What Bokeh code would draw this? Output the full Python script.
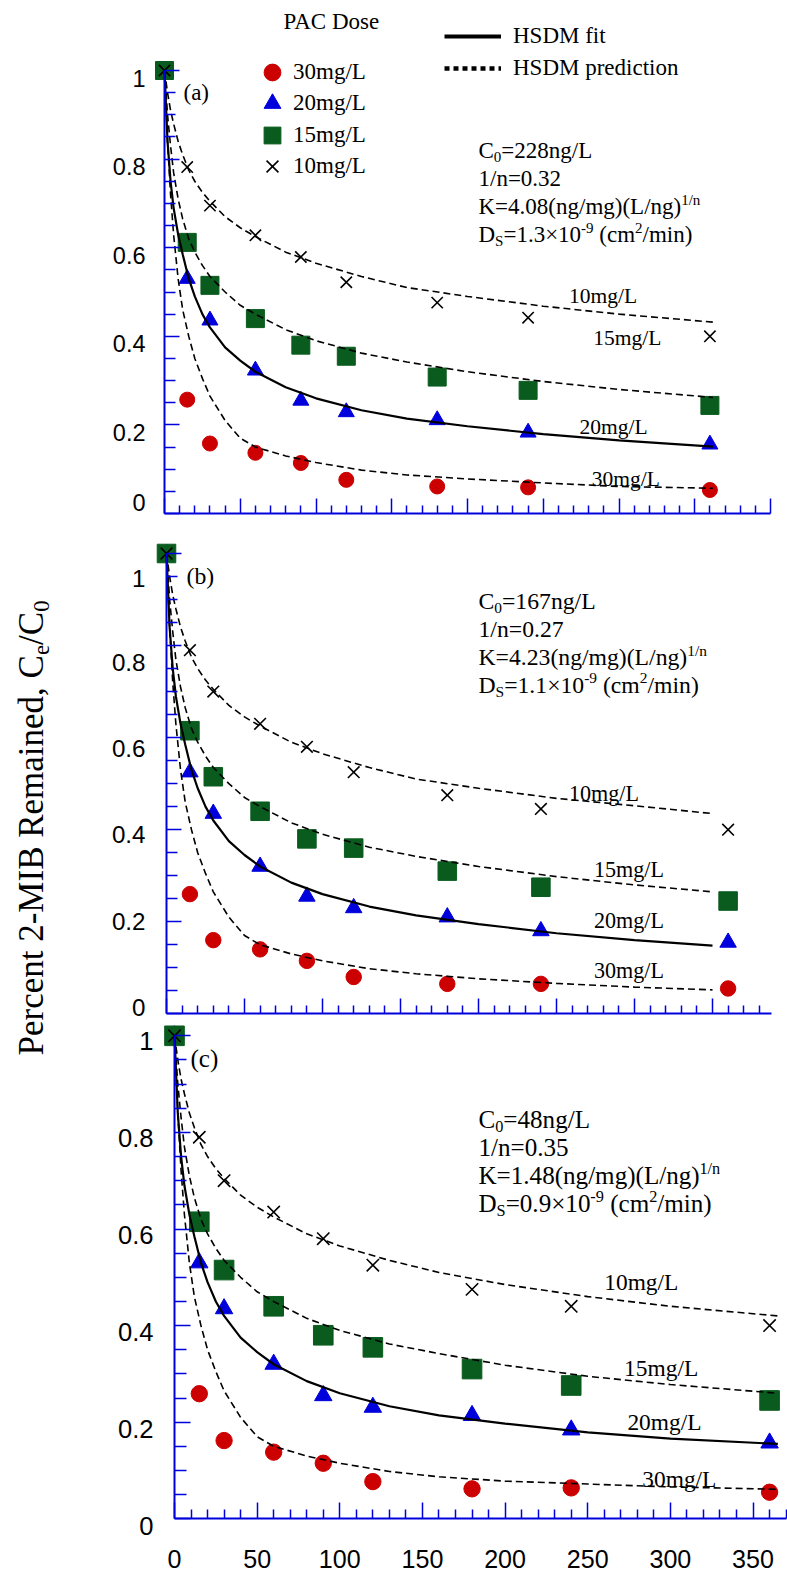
from bokeh.plotting import figure
from bokeh.models import Range1d, LinearAxis, FixedTicker, Label, Legend, LegendItem, NumeralTickFormatter
from bokeh.embed import file_html
from bokeh.resources import INLINE

# ---------------- data ----------------
TIME = [0, 15, 30, 60, 90, 120, 180, 240, 360]
DOSES = ["30mg/L", "20mg/L", "15mg/L", "10mg/L"]

A_30 = [1.0, 0.257, 0.158, 0.137, 0.114, 0.076, 0.061, 0.059, 0.053]
A_20 = [1.0, 0.530, 0.436, 0.323, 0.255, 0.229, 0.211, 0.183, 0.156]
A_15 = [1.0, 0.612, 0.515, 0.440, 0.380, 0.355, 0.308, 0.278, 0.244]
A_10 = [1.0, 0.782, 0.695, 0.628, 0.579, 0.522, 0.476, 0.442, 0.400]

B_30 = [1.0, 0.260, 0.160, 0.140, 0.115, 0.080, 0.065, 0.065, 0.055]
B_20 = [1.0, 0.525, 0.435, 0.320, 0.255, 0.230, 0.210, 0.180, 0.155]
B_15 = [1.0, 0.615, 0.515, 0.440, 0.380, 0.360, 0.310, 0.275, 0.245]
B_10 = [1.0, 0.790, 0.700, 0.630, 0.580, 0.525, 0.475, 0.445, 0.400]

C_30 = [1.0, 0.259, 0.162, 0.138, 0.115, 0.077, 0.062, 0.064, 0.055]
C_20 = [1.0, 0.530, 0.435, 0.320, 0.255, 0.231, 0.214, 0.184, 0.157]
C_15 = [1.0, 0.615, 0.515, 0.440, 0.380, 0.355, 0.310, 0.276, 0.245]
C_10 = [1.0, 0.790, 0.700, 0.635, 0.580, 0.525, 0.475, 0.440, 0.400]

CURVE_T_A = [0, 2, 4, 6, 9, 12, 16, 20, 25, 30, 40, 50, 60, 80, 100, 130, 160, 200, 250, 300, 362]
CURVE_T_B = [0, 2, 4, 6, 9, 12, 16, 20, 25, 30, 40, 50, 60, 80, 100, 130, 160, 200, 250, 300, 350]
CURVE_T_C = [0, 2, 4, 6, 9, 12, 16, 20, 25, 30, 40, 50, 60, 80, 100, 130, 160, 200, 250, 300, 365]

A_PRED_10 = [1.0, 0.95, 0.91, 0.88, 0.84, 0.81, 0.775, 0.75, 0.725, 0.705, 0.67, 0.645, 0.625, 0.59, 0.565, 0.535, 0.51, 0.49, 0.468, 0.45, 0.432]
A_PRED_15 = [1.0, 0.90, 0.83, 0.77, 0.71, 0.665, 0.62, 0.59, 0.56, 0.535, 0.50, 0.47, 0.45, 0.415, 0.39, 0.362, 0.342, 0.32, 0.298, 0.28, 0.262]
A_FIT_20 = [1.0, 0.84, 0.75, 0.69, 0.63, 0.585, 0.53, 0.49, 0.45, 0.42, 0.375, 0.345, 0.32, 0.285, 0.26, 0.233, 0.214, 0.197, 0.179, 0.165, 0.151]
A_PRED_30 = [1.0, 0.84, 0.72, 0.63, 0.53, 0.46, 0.40, 0.35, 0.305, 0.265, 0.21, 0.17, 0.15, 0.13, 0.115, 0.098, 0.087, 0.078, 0.069, 0.061, 0.057]

B_PRED_10 = [1.0, 0.95, 0.91, 0.88, 0.84, 0.81, 0.775, 0.75, 0.725, 0.705, 0.67, 0.645, 0.625, 0.59, 0.565, 0.535, 0.51, 0.49, 0.468, 0.452, 0.435]
B_PRED_15 = [1.0, 0.90, 0.83, 0.77, 0.71, 0.665, 0.62, 0.59, 0.56, 0.535, 0.50, 0.47, 0.45, 0.415, 0.39, 0.362, 0.342, 0.32, 0.298, 0.28, 0.265]
B_FIT_20 = [1.0, 0.84, 0.75, 0.69, 0.63, 0.585, 0.53, 0.49, 0.45, 0.42, 0.375, 0.345, 0.32, 0.285, 0.26, 0.233, 0.214, 0.195, 0.175, 0.16, 0.148]
B_PRED_30 = [1.0, 0.84, 0.72, 0.63, 0.53, 0.46, 0.40, 0.35, 0.305, 0.265, 0.21, 0.17, 0.15, 0.13, 0.115, 0.098, 0.087, 0.076, 0.066, 0.058, 0.052]

C_PRED_10 = [1.0, 0.95, 0.91, 0.88, 0.84, 0.81, 0.775, 0.75, 0.725, 0.705, 0.67, 0.645, 0.625, 0.59, 0.565, 0.535, 0.51, 0.485, 0.46, 0.44, 0.42]
C_PRED_15 = [1.0, 0.90, 0.83, 0.77, 0.71, 0.665, 0.62, 0.59, 0.56, 0.535, 0.50, 0.47, 0.45, 0.415, 0.39, 0.362, 0.342, 0.318, 0.295, 0.278, 0.26]
C_FIT_20 = [1.0, 0.84, 0.75, 0.69, 0.63, 0.585, 0.53, 0.49, 0.45, 0.42, 0.375, 0.345, 0.32, 0.285, 0.26, 0.233, 0.214, 0.197, 0.179, 0.166, 0.155]
C_PRED_30 = [1.0, 0.84, 0.72, 0.63, 0.53, 0.46, 0.40, 0.35, 0.305, 0.265, 0.21, 0.17, 0.15, 0.13, 0.115, 0.098, 0.087, 0.078, 0.072, 0.066, 0.061]

Y_TICKS = [0, 0.2, 0.4, 0.6, 0.8, 1.0]
Y_MINOR = [round(0.05 * k, 2) for k in range(21) if k % 4]
X_TICKS = [0, 50, 100, 150, 200, 250, 300, 350, 400]

# ---------------- style / layout ----------------
W, H = 787, 1579
RED, BLUE, GREEN, BLACK, AXIS = "#CC0000", "#0000DD", "#0A5C1E", "#000000", "#0000DD"
SERIF, SANS = "Liberation Serif", "Liberation Sans"

TW = {'.': 250, ',': 250, '(': 333, ')': 333, '/': 278, '=': 564, '×': 564, '-': 333, ' ': 250,
      'n': 500, 'g': 500, 'm': 778, 'L': 611, 'K': 722, 'C': 667, 'D': 722, 'S': 556, 'c': 444,
      'i': 278, 'e': 444, 'a': 444, 'P': 556, 'r': 333, 't': 278, 'M': 889, 'I': 333, 'B': 667,
      'R': 667, 'd': 500}


def tw(s, size):
    return sum(TW.get(ch, 500) for ch in s) / 1000.0 * size


# X0/Y0: page pixel of the data origin; sx/sy: pixels per data unit.
# lbl: where the printed tick labels sit (they are not exactly level with their ticks in the original)
PANELS = {
    "a": dict(name="default", X0=164, Y0=513, sx=1.515, sy=443, xb=400, xmax_tick=400, k=1.0,
              labels=False, data=(A_30, A_20, A_15, A_10), ct=CURVE_T_A,
              curves=(A_PRED_30, A_FIT_20, A_PRED_15, A_PRED_10),
              lbl=[([0.2, 0.4, 0.6, 0.8, 1.0], 520, 442), ([0], 502, 443)], lbl_std=19,
              letter=("(a)", 183, 92),
              ann=(478, [157, 185, 213, 241], "228", "0.32", "4.08", "1.3"),
              clabels=[("10mg/L", 267, 0.49), ("15mg/L", 283, 0.397), ("20mg/L", 274, 0.196), ("30mg/L", 282, 0.077)]),
    "b": dict(name="b", X0=166, Y0=1013.3, sx=1.56, sy=460.3, xb=388, xmax_tick=380, k=1.03,
              labels=False, data=(B_30, B_20, B_15, B_10), ct=CURVE_T_B,
              curves=(B_PRED_30, B_FIT_20, B_PRED_15, B_PRED_10),
              lbl=[([0, 0.2, 0.4, 0.6, 0.8], 1007, 431.5), ([1.0], 1009.5, 431.5)], lbl_std=21,
              letter=("(b)", 186, 575),
              ann=(478, [608, 636, 664, 692], "167", "0.27", "4.23", "1.1"),
              clabels=[("10mg/L", 258, 0.478), ("15mg/L", 274, 0.313), ("20mg/L", 274, 0.203), ("30mg/L", 274, 0.094)]),
    "c": dict(name="c", X0=174, Y0=1518.3, sx=1.653, sy=483, xb=370, xmax_tick=370, k=1.09,
              labels=True, data=(C_30, C_20, C_15, C_10), ct=CURVE_T_C,
              curves=(C_PRED_30, C_FIT_20, C_PRED_15, C_PRED_10),
              lbl=[([0, 0.2, 0.4, 0.6, 0.8, 1.0], 1525.5, 485)], lbl_std=21,
              letter=("(c)", 190, 1058),
              ann=(478, [1127, 1155, 1183, 1211], "48", "0.35", "1.48", "0.9"),
              clabels=[("10mg/L", 260, 0.491), ("15mg/L", 272, 0.313), ("20mg/L", 274, 0.201), ("30mg/L", 283, 0.083)]),
}

x_ranges, y_ranges = {}, {}
for key, P in PANELS.items():
    x_ranges[P["name"]] = Range1d(-P["X0"] / P["sx"], (W - P["X0"]) / P["sx"])
    y_ranges[P["name"]] = Range1d((P["Y0"] - H) / P["sy"], P["Y0"] / P["sy"])
    for i, (_, y0l, syl) in enumerate(P["lbl"]):
        y_ranges[f"{key}_lbl{i}"] = Range1d((y0l - H) / syl, y0l / syl)

PA, PB, PC = PANELS["a"], PANELS["b"], PANELS["c"]

p = figure(width=W, height=H, x_range=x_ranges["default"], y_range=y_ranges["default"],
           min_border=0, x_axis_location=None, y_axis_location=None,
           output_backend="svg", toolbar_location=None, background_fill_color="white",
           border_fill_color="white", outline_line_color=None)
p.grid.visible = False
p.extra_x_ranges = {k: v for k, v in x_ranges.items() if k != "default"}
p.extra_y_ranges = {k: v for k, v in y_ranges.items() if k != "default"}


def to_data(P, px, py):
    return (px - P["X0"]) / P["sx"], (P["Y0"] - py) / P["sy"]


def label(P, px, py, text, size, align="left", baseline="middle", angle=0.0, font=SERIF):
    x, y = to_data(P, px, py)
    p.add_layout(Label(x=x, y=y, x_range_name=P["name"], y_range_name=P["name"], text=text, angle=angle,
                       text_font=font, text_font_size=f"{size:.1f}px", text_color=BLACK,
                       text_align=align, text_baseline=baseline))


def rich(P, px, py, segs, size, angle=0.0):
    """px, py: start of the text baseline (page px). Placed with middle baseline."""
    cur = 0.0
    for txt, kind in segs:
        fs = size * (0.65 if kind != "n" else 1.0)
        shift = {"n": 0.0, "sub": -0.18 * size, "sup": 0.40 * size}[kind] + 0.32 * fs
        lead = len(txt) - len(txt.lstrip(" "))
        cur += tw(" " * lead, fs)
        txt = txt.lstrip(" ")
        if angle == 0:
            qx, qy = px + cur, py - shift
        else:
            qx, qy = px - shift, py - cur
        label(P, qx, qy, txt, fs, angle=angle)
        cur += tw(txt, fs)


def style_axis(ax, k):
    ax.axis_line_color = AXIS
    ax.axis_line_width = 2
    ax.major_tick_line_color = AXIS
    ax.minor_tick_line_color = AXIS
    ax.major_tick_line_width = 1.5
    ax.minor_tick_line_width = 1.5
    ax.major_tick_out = 0
    ax.minor_tick_out = 0
    ax.major_tick_in = round(15 * k)
    ax.minor_tick_in = round(8 * k)
    ax.major_label_text_font = SANS
    ax.major_label_text_color = BLACK


def build(key):
    P = PANELS[key]
    nm, k = P["name"], P["k"]
    # ---- y axis at x = 0: line + ticks ----
    y1 = LinearAxis(x_range_name=nm, y_range_name=nm, fixed_location=0, bounds=(0, 1),
                    ticker=FixedTicker(ticks=[], minor_ticks=Y_MINOR))
    style_axis(y1, k)
    y1.minor_tick_in = round(11 * k)
    p.add_layout(y1, "left")
    y2 = LinearAxis(x_range_name=nm, y_range_name=nm, fixed_location=0, bounds=(0, 1),
                    ticker=FixedTicker(ticks=[], minor_ticks=Y_TICKS))
    style_axis(y2, k)
    y2.axis_line_color = None
    y2.minor_tick_in = round(15 * k)
    p.add_layout(y2, "left")
    # ---- y tick labels ----
    for i, (ticks, _, _) in enumerate(P["lbl"]):
        y3 = LinearAxis(x_range_name=nm, y_range_name=f"{key}_lbl{i}", fixed_location=0,
                        ticker=FixedTicker(ticks=ticks, minor_ticks=[]),
                        formatter=NumeralTickFormatter(format="0.[0]"))
        style_axis(y3, k)
        y3.axis_line_color = None
        y3.major_tick_line_color = None
        y3.major_tick_in = 0
        y3.major_label_text_font_size = f"{23.5 * k:.1f}px"
        y3.major_label_standoff = P["lbl_std"]
        p.add_layout(y3, "left")

    # ---- x axis at y = 0 ----
    minors = [t for t in range(10, P["xmax_tick"] + 1, 10) if t % 50]
    majors = [t for t in X_TICKS if t <= P["xmax_tick"]]
    if P["labels"]:
        xax = LinearAxis(x_range_name=nm, y_range_name=nm, fixed_location=0, bounds=(0, P["xb"]),
                         ticker=FixedTicker(ticks=majors, minor_ticks=minors))
        style_axis(xax, k)
        xax.major_label_text_font_size = f"{23 * k:.1f}px"
        xax.major_label_standoff = 31
        p.add_layout(xax, "below")
    else:
        xax = LinearAxis(x_range_name=nm, y_range_name=nm, fixed_location=0, bounds=(0, P["xb"]),
                         ticker=FixedTicker(ticks=[], minor_ticks=minors))
        style_axis(xax, k)
        p.add_layout(xax, "below")
        xax2 = LinearAxis(x_range_name=nm, y_range_name=nm, fixed_location=0, bounds=(0, P["xb"]),
                          ticker=FixedTicker(ticks=[], minor_ticks=majors))
        style_axis(xax2, k)
        xax2.axis_line_color = None
        xax2.minor_tick_in = round(15 * k)
        p.add_layout(xax2, "below")

    d30, d20, d15, d10 = P["data"]
    kw = dict(x_range_name=nm, y_range_name=nm)
    r30 = p.scatter(TIME, d30, marker="circle", size=15 * k, fill_color=RED, line_color=RED, **kw)
    r20 = p.scatter(TIME, d20, marker="triangle", size=16 * k, fill_color=BLUE, line_color=BLUE, **kw)
    r15 = p.scatter(TIME, d15, marker="square", size=18 * k, fill_color=GREEN, line_color=GREEN, **kw)
    r10 = p.scatter(TIME, d10, marker="x", size=16 * k, line_color=BLACK, line_width=1.6, **kw)

    c30, c20, c15, c10 = P["curves"]
    ct = P["ct"]
    for c in (c10, c15, c30):
        p.line(ct, c, line_color=BLACK, line_width=1.6, line_dash="7 4", **kw)
    p.line(ct, c20, line_color=BLACK, line_width=2.2, **kw)

    for txt, tx, ty in P["clabels"]:
        p.add_layout(Label(x=tx, y=ty, text=txt, text_font=SERIF, text_font_size=f"{21.5 * k:.1f}px",
                           text_color=BLACK, text_align="left", text_baseline="middle", **kw))

    lt, lx, ly = P["letter"]
    label(P, lx, ly, lt, 23 * k)

    ax_, bases, c0, nn, kk, ds = P["ann"]
    s = 23 * k
    rich(P, ax_, bases[0], [("C", "n"), ("0", "sub"), ("=" + c0 + "ng/L", "n")], s)
    rich(P, ax_, bases[1], [("1/n=" + nn, "n")], s)
    rich(P, ax_, bases[2], [("K=" + kk + "(ng/mg)(L/ng)", "n"), ("1/n", "sup")], s)
    rich(P, ax_, bases[3], [("D", "n"), ("S", "sub"), ("=" + ds + "×10", "n"), ("-9", "sup"),
                            (" (cm", "n"), ("2", "sup"), ("/min)", "n")], s)
    return (r30, r20, r15, r10)


ra = build("a")
build("b")
build("c")

# ----- legends (panel a) -----
rich(PA, 283, 28, [("PAC Dose", "n")], 23)

for (r, lab), cy in zip(zip(ra, DOSES), [72, 103, 135, 166]):
    g = 42
    p.add_layout(Legend(items=[LegendItem(label=lab, renderers=[r])],
                        location=(272 - g / 2, H - (cy + g / 2)),
                        glyph_width=g, glyph_height=g, label_standoff=0, padding=0, margin=0,
                        border_line_color=None, background_fill_alpha=0,
                        label_text_font=SERIF, label_text_font_size="23px", label_text_color=BLACK))

# legend keys for the model lines (thick, as in the original legend); hidden in the plot itself
fit_key = p.line(CURVE_T_A, A_FIT_20, line_color=BLACK, line_width=4, visible=False)
pred_key = p.line(CURVE_T_A, A_PRED_10, line_color=BLACK, line_width=4.5, line_dash="5 4", visible=False)
for (r, lab), cy in zip([(fit_key, "HSDM fit"), (pred_key, "HSDM prediction")], [36, 68]):
    p.add_layout(Legend(items=[LegendItem(label=lab, renderers=[r])],
                        location=(444, H - (cy + 15)),
                        glyph_width=57, glyph_height=30, label_standoff=12, padding=0, margin=0,
                        border_line_color=None, background_fill_alpha=0,
                        inactive_fill_alpha=0,
                        label_text_font=SERIF, label_text_font_size="23px", label_text_color=BLACK))

# ----- y-axis title -----
rich(PB, 42, 1055, [("Percent 2-MIB Remained, C", "n"), ("e", "sub"), ("/C", "n"), ("0", "sub")], 35,
     angle=1.5707963267948966)

open("out.html", "w").write(file_html(p, INLINE))
